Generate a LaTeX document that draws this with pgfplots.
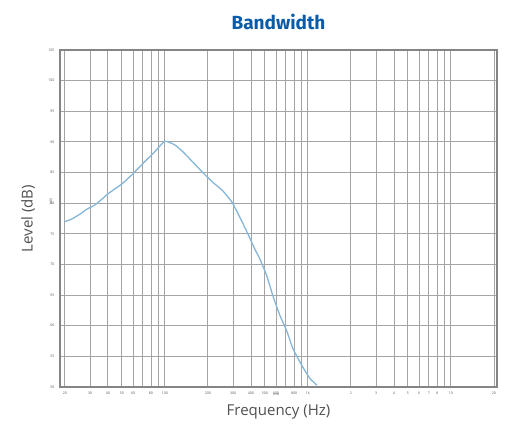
\documentclass[border=0pt]{standalone}
\usepackage{pgfplots}
\pgfplotsset{compat=1.18}
\usetikzlibrary{calc}
\usepackage{fontspec}
\setmainfont{Open Sans}
\newfontfamily\titlefont{Fira Sans}
\definecolor{titleblue}{HTML}{0B5CA8}
\definecolor{curveblue}{HTML}{86B6D8}
\definecolor{gridgray}{HTML}{A4A4A4}
\definecolor{framegray}{HTML}{858585}
\definecolor{labelgray}{HTML}{505050}
\begin{document}
\begin{tikzpicture}
\begin{axis}[
  name=ax,
  at={(0,0)}, anchor=south west,
  scale only axis,
  width=437pt, height=337pt,
  xmode=log,
  xmin=18.5, xmax=21000,
  ymin=50, ymax=105,
  ytick={50,55,...,105},
  xtick={20,30,40,50,60,70,80,90,100,200,300,400,500,600,700,800,900,1000,2000,3000,4000,5000,6000,7000,8000,9000,10000,20000},
  xticklabels={20,30,40,50,60,,80,,100,200,300,400,500,600,,800,,1k,2,3,4,5,6,7,8,,10,20},
  log ticks with fixed point,
  grid=major,
  major grid style={gridgray, line width=0.9pt},
  axis line style={framegray, line width=1.4pt},
  major tick length=0pt,
  tick label style={font=\fontsize{3.5}{4}\selectfont, text=labelgray},
  yticklabel style={xshift=-2pt},
  xticklabel style={yshift=-1pt},
  yticklabel={\pgfmathprintnumber[fixed,precision=0]{\tick}},
  /pgf/number format/assume math mode=true,
  clip=false,
]
\addplot[curveblue, line width=1.3pt, smooth, tension=0.3] coordinates {
(20,77.0) (22.3,77.4) (25.5,78.2) (28.4,79.0) (32.4,79.7) (36.1,80.6)
(39.9,81.5) (49.8,83.1) (56.9,84.3) (64.7,85.6) (72.5,86.8) (85.1,88.4)
(100,90.1) (117.5,89.5) (133.6,88.4) (157,86.7) (184.4,85.0) (216.6,83.4)
(254.5,82.0) (294,80.2) (334.6,77.7) (380.5,75.0) (426,72.5) (461.6,70.9)
(516.9,68.1) (569,64.9) (637,61.7) (713,59.1) (785,56.3) (908,53.5)
(1033,51.4) (1156,50.3)
};
\node[font=\fontsize{3}{3}\selectfont, text=labelgray] at (axis cs:600,50) [yshift=-8pt] {(Hz)};
\end{axis}
\node[font={\titlefont\bfseries\fontsize{19}{22}\selectfont}, text=titleblue] at ($(ax.north)+(0,28pt)$) {Bandwidth};
\node[font=\fontsize{15}{18}\selectfont, text=labelgray] at ($(ax.south)+(0,-25pt)$) {Frequency (Hz)};
\node[font=\fontsize{15}{18}\selectfont, text=labelgray, rotate=90] at ($(ax.west)+(-32pt,0)$) {Level (dB)};
\node[font=\fontsize{3}{3}\selectfont, text=labelgray, rotate=90] at ($(ax.south west)!0.55!(ax.north west)+(-9pt,0)$) {[dB]};
\path ($(ax.south west)+(-60pt,-39pt)$) rectangle ($(ax.north east)+(9pt,50pt)$);
\end{tikzpicture}
\end{document}
